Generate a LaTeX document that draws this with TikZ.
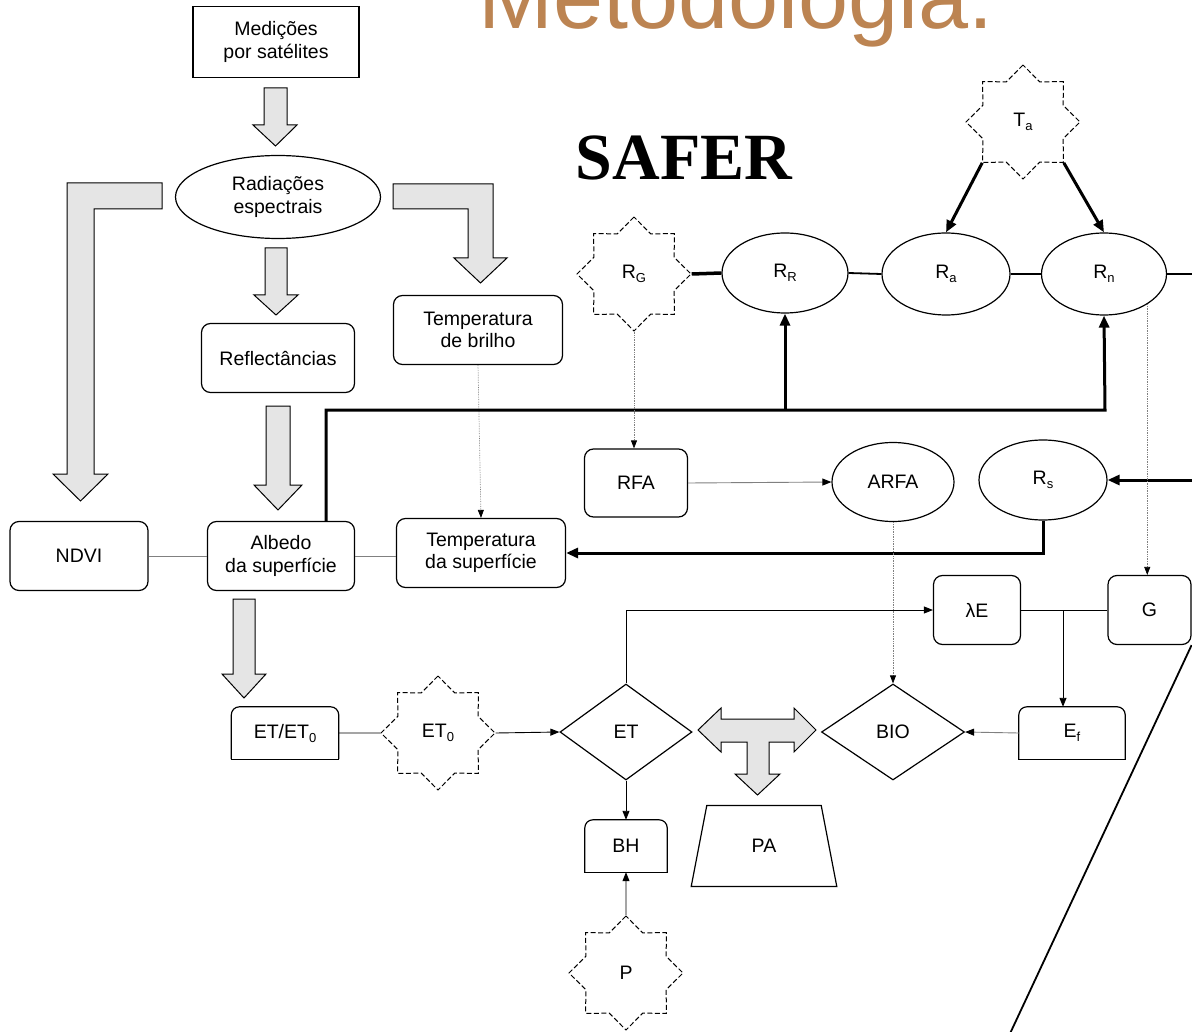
\documentclass[tikz,border=0pt]{standalone}
\usepackage{fontspec}
\setmainfont{Liberation Sans}
\newfontfamily\titleSerif{Liberation Serif}
\usetikzlibrary{positioning,arrows.meta,shapes.geometric,calc}
\definecolor{titleBrown}{HTML}{BC8452}
\newcommand{\sbs}[1]{\raisebox{-4pt}{\fontsize{13}{13}\selectfont #1}}
\newcommand{\topRound}[1]{%
  \draw[boxLine, rounded corners=8pt] (#1.south west) -- (#1.north west) -- (#1.north east) -- (#1.south east);
  \draw[boxLine, line cap=rect] (#1.south west) -- (#1.south east);}

\begin{document}
\begin{tikzpicture}[x=1pt, y=-1pt,
    baseText/.style={font=\fontsize{19.5}{22.5}\selectfont, align=center, inner sep=0pt},
    boxLine/.style={line width=1.2pt},
    plainBox/.style={baseText, draw, boxLine},
    roundBox/.style={plainBox, rounded corners=9pt},
    ellBox/.style={plainBox, ellipse},
    diamondNode/.style={plainBox, diamond},
    starNode/.style={baseText, draw, star, star points=8, star point ratio=1.31, minimum size=114pt, line width=1pt, dash pattern=on 5pt off 2.5pt},
    blockArrow/.style={draw, fill=gray!20, line width=1pt, line join=miter},
    thinLine/.style={line width=0.9pt},
    grayLine/.style={line width=0.9pt, draw=gray},
    thinArrow/.style={thinLine, -{Triangle[length=9pt,width=7pt]}},
    grayArrow/.style={grayLine, -{Triangle[length=9pt,width=7pt,color=black]}},
    dotArrow/.style={line width=0.7pt, draw=gray, densely dotted, -{Triangle[length=8pt,width=6pt,color=black]}},
    thickLine/.style={line width=3pt},
    thickArrow/.style={thickLine, -{Triangle[length=12pt,width=10pt]}}
]
    \useasboundingbox (0,0) rectangle (1192,1032);
    \clip (0,0) rectangle (1192,1032);

    % titles
    \node[font=\fontsize{90}{90}\selectfont, text=titleBrown, anchor=base, inner sep=0pt] (title) at (736,29) {Metodologia.};
    \node[font=\titleSerif\bfseries\fontsize{66}{66}\selectfont, anchor=base, inner sep=0pt] (safer) at (684,180) {SAFER};

    % left column
    \node[plainBox, minimum width=166pt, minimum height=71pt] (med) at (276,42) {Medições\\por satélites};
    \node[ellBox, minimum width=205pt, minimum height=83pt] (rad) at (278,197) {Radiações\\espectrais};
    \node[roundBox, minimum width=153pt, minimum height=69pt] (refl) at (278,358) {Reflectâncias};
    \node[roundBox, minimum width=169pt, minimum height=69pt] (tbr) at (478,330) {Temperatura\\de brilho};
    \node[roundBox, minimum width=138pt, minimum height=69pt] (ndvi) at (79,556) {NDVI};
    \node[roundBox, minimum width=147pt, minimum height=69pt] (alb) at (281,556) {Albedo\\da superfície};
    \node[roundBox, minimum width=169pt, minimum height=69pt] (tsup) at (481,553) {Temperatura\\da superfície};

    % radiation balance
    \node[starNode] (rg) at (634,274) {R\sbs{G}};
    \node[ellBox, minimum width=126pt, minimum height=80pt] (rr) at (785,273) {R\sbs{R}};
    \node[ellBox, minimum width=128pt, minimum height=82pt] (ra) at (946,274) {R\sbs{a}};
    \node[ellBox, minimum width=125pt, minimum height=82pt] (rn) at (1104,274) {R\sbs{n}};
    \node[starNode] (ta) at (1023,122) {T\sbs{a}};
    \node[roundBox, minimum width=103pt, minimum height=68pt] (rfa) at (636,483) {RFA};
    \node[ellBox, minimum width=122pt, minimum height=79pt] (arfa) at (893,482) {ARFA};
    \node[ellBox, minimum width=128pt, minimum height=80pt] (rs) at (1043,480) {R\sbs{s}};
    \node[roundBox, minimum width=87pt, minimum height=69pt] (le) at (977,610) {λE};
    \node[roundBox, minimum width=83pt, minimum height=69pt] (g) at (1149.5,610) {G};

    % bottom row
    \node[baseText, minimum width=106pt, minimum height=52pt] (ef) at (1072,733) {E\sbs{f}};
    \node[diamondNode, minimum width=143pt, minimum height=96pt] (bio) at (893,732) {BIO};
    \node[diamondNode, minimum width=132pt, minimum height=96pt] (et) at (626,732) {ET};
    \node[baseText, minimum width=107pt, minimum height=52pt] (etr) at (285,733) {ET/ET\sbs{0}};
    \node[starNode] (et0) at (438,733) {ET\sbs{0}};
    \node[baseText, minimum width=82pt, minimum height=52pt] (bh) at (626,846) {BH};
    \node[starNode] (p) at (626,973) {P};
    \node[plainBox, trapezium, trapezium angle=76, trapezium stretches=true, minimum width=146pt, minimum height=81pt] (pa) at (764,846) {PA};
    \topRound{ef}
    \topRound{etr}
    \topRound{bh}

    \coordinate (rnOut) at (1192,274);
    \coordinate (rsIn) at (1192,480);
    \coordinate (busEnd) at (1105,410);
    \coordinate (diagEnd) at (1007,1040);

    % block arrows
    \draw[blockArrow] (264,88) -- (287,88) -- (287,125) -- (297,125) -- (275.5,146) -- (253,125) -- (264,125) -- cycle;
    \draw[blockArrow] (265,248) -- (287,248) -- (287,295) -- (298,295) -- (276,315) -- (254,295) -- (265,295) -- cycle;
    \draw[blockArrow] (266,406) -- (290,406) -- (290,485) -- (302,485) -- (278,510) -- (254,485) -- (266,485) -- cycle;
    \draw[blockArrow] (233,599) -- (255,599) -- (255,674) -- (266,674) -- (244,698) -- (222,674) -- (233,674) -- cycle;
    \draw[blockArrow] (162,183) -- (67,183) -- (67,474) -- (53,474) -- (80.5,501) -- (108,474) -- (94,474) -- (94,209) -- (162,209) -- cycle;
    \draw[blockArrow] (393,184) -- (493,184) -- (493,258) -- (507,258) -- (480.5,283) -- (454,258) -- (468,258) -- (468,209) -- (393,209) -- cycle;
    \draw[blockArrow] (698,730) -- (721,708) -- (721,719) -- (794,719) -- (794,708) -- (816,730) -- (794,752) -- (794,742) -- (769,742) -- (769,774) -- (780,774) -- (757.5,795) -- (735,774) -- (747,774) -- (747,742) -- (721,742) -- (721,752) -- cycle;

    % connectors
    \draw[grayLine] (ndvi.east) -- (alb.west);
    \draw[grayLine] (alb.east) -- (alb.east -| tsup.west);
    \draw[dotArrow] (tbr.south) -- (tsup.north);
    \draw[thickArrow] ([xshift=45pt]alb.north) |- (busEnd) -- (rn.south);
    \draw[thickArrow] (rr.south |- busEnd) -- (rr.south);
    \draw[line width=3.5pt] (rg.east) -- (rr.west);
    \draw[line width=1.8pt] (rr.east) -- (ra.west);
    \draw[line width=2.2pt] (ra.east) -- (rn.west);
    \draw[line width=1.8pt] (rn.east) -- (rnOut);
    \draw[thickArrow] (ta.outer point 4) -- (ra.north);
    \draw[thickArrow] (ta.outer point 6) -- (rn.north);
    \draw[dotArrow] (rg.south) -- (rg.south |- rfa.north);
    \draw[grayArrow] (rfa.east) -- (arfa.west);
    \draw[thickArrow] (rsIn) -- (rs.east);
    \draw[thickArrow] (rs.south) |- (tsup.east);
    \draw[dotArrow] (rn.-35) -- (rn.-35 |- g.north);
    \draw[thinLine] (le.east) -- (g.west);
    \draw[thinArrow] ([xshift=-9pt]ef.north |- le.east) -- ([xshift=-9pt]ef.north);
    \draw[line width=1.8pt] (g.south east) -- (diagEnd);
    \draw[thinArrow] (et.north) |- (le.west);
    \draw[dotArrow] (arfa.south) -- (bio.north);
    \draw[grayArrow] (ef.west) -- (bio.east);
    \draw[thinLine] (etr.east) -- (et0.west);
    \draw[thinArrow] (et0.east) -- (et.west);
    \draw[thinArrow] (et.south) -- (bh.north);
    \draw[thinArrow] (p.north) -- (bh.south);
\end{tikzpicture}
\end{document}
